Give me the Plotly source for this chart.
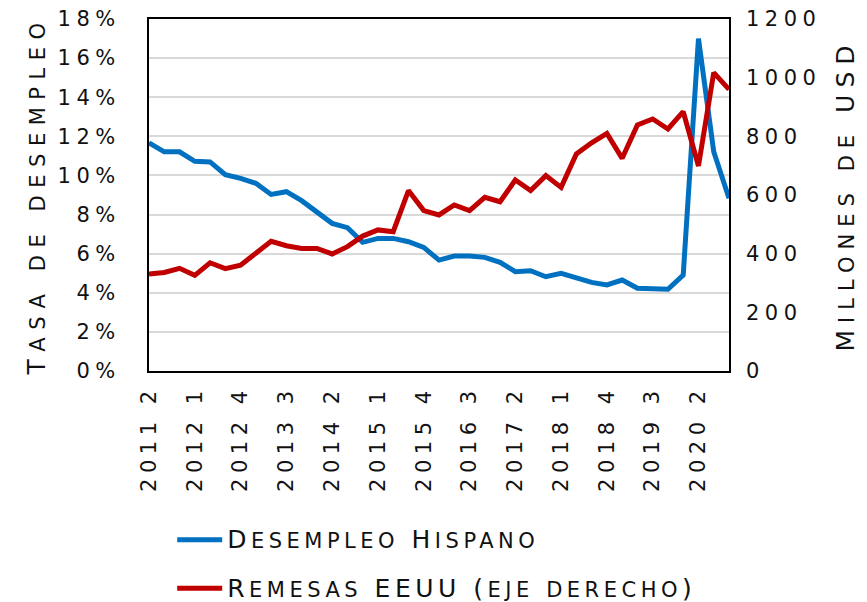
import plotly.graph_objects as go

# trimestres 2011 T2 .. 2020 T4
trimestres = [f"{a} {q}" for a in range(2011, 2021) for q in range(1, 5)][1:]
etiquetas = trimestres[::3]

desempleo = [11.67, 11.21, 11.21, 10.72, 10.69, 10.04, 9.85, 9.60, 9.03, 9.17,
             8.71, 8.13, 7.55, 7.33, 6.58, 6.78, 6.78, 6.61, 6.32, 5.67,
             5.88, 5.88, 5.81, 5.56, 5.08, 5.13, 4.82, 4.99, 4.74, 4.53,
             4.40, 4.65, 4.23, 4.21, 4.18, 4.91, 17.0, 11.21, 8.83]
desempleo = [v / 100 for v in desempleo]

remesas = [331, 336, 350, 326, 369, 349, 361, 401, 442, 427,
           418, 418, 399, 424, 460, 481, 475, 615, 547, 532,
           566, 547, 592, 577, 651, 615, 666, 626, 740, 778,
           810, 725, 839, 859, 825, 884, 699, 1017, 960]

ticks_izq = [i * 0.02 for i in range(10)]
ticks_izq_txt = [f"{i * 2}%" for i in range(10)]
ticks_der = [0, 200, 400, 600, 800, 1000, 1200]

FUENTE = "DejaVu Sans"
NEGRO = "#111111"


def espaciado(t, esp=5.5):
    return f'<span style="letter-spacing:{esp}px">{t}</span>'


def versalitas(t, grande, chico, esp):
    # imita la tipografia de versalitas del original
    trozos, actual, tam = [], "", None
    for ch in t:
        s = chico if ch.islower() else grande
        if s != tam and actual:
            trozos.append((actual, tam))
            actual = ""
        tam = s
        actual += ch.upper()
    trozos.append((actual, tam))
    return "".join(f'<span style="font-size:{s}px;letter-spacing:{esp}px">{c}</span>'
                   for c, s in trozos)


fuente = dict(family=FUENTE, size=21, color=NEGRO)

fig = go.Figure()
fig.add_trace(go.Scatter(x=trimestres, y=desempleo,
                         name=versalitas("Desempleo Hispano", 25, 21, 4.5),
                         mode="lines", line=dict(color="#0070C0", width=5),
                         legendgroup="a"))
fig.add_trace(go.Scatter(x=trimestres, y=remesas,
                         name=versalitas("Remesas EEUU (eje derecho)", 25, 21, 4.5),
                         mode="lines", line=dict(color="#C00000", width=5),
                         yaxis="y2", legendgroup="b"))

# la pagina tiene margen propio: la figura se reduce para que quepa entera
fig.update_layout(
    width=859, height=594,
    margin=dict(l=141, r=138, t=11, b=231, autoexpand=False),
    paper_bgcolor="white", plot_bgcolor="white",
    font=fuente,
    showlegend=True,
    legend=dict(x=0.04, y=-0.42, xanchor="left", yanchor="top",
                font=dict(family=FUENTE, size=22, color=NEGRO),
                itemwidth=45, tracegroupgap=17, bgcolor="rgba(0,0,0,0)"),
    xaxis=dict(type="category", tickmode="array", tickvals=etiquetas,
               ticktext=[espaciado(e) for e in etiquetas],
               tickangle=-90, showgrid=False, showline=True, linecolor="black",
               linewidth=2, mirror=True, ticks="", ticklabelstandoff=4,
               ticklabeloverflow="allow", tickfont=fuente),
    yaxis=dict(range=[0, 0.18], tickmode="array", tickvals=ticks_izq,
               ticktext=[espaciado(t) for t in ticks_izq_txt], showgrid=True,
               gridcolor="#D9D9D9", gridwidth=1.5, zeroline=False,
               showline=True, linecolor="black", linewidth=2, mirror=True,
               ticks="", ticklabelstandoff=22, ticklabeloverflow="allow",
               tickfont=fuente,
               title=dict(text=versalitas("Tasa de desempleo", 25, 21, 7.5), standoff=5,
                          font=dict(family=FUENTE, size=25, color=NEGRO))),
    yaxis2=dict(range=[0, 1200], tickmode="array", tickvals=ticks_der,
                ticktext=[espaciado(str(t)) for t in ticks_der], overlaying="y",
                side="right", showgrid=False, zeroline=False, ticks="",
                ticklabelstandoff=16, ticklabeloverflow="allow", tickfont=fuente,
                title=dict(text=versalitas("Millones de USD", 25, 21, 7), standoff=16,
                           font=dict(family=FUENTE, size=25, color=NEGRO))),
)

fig.write_html("out.html")
